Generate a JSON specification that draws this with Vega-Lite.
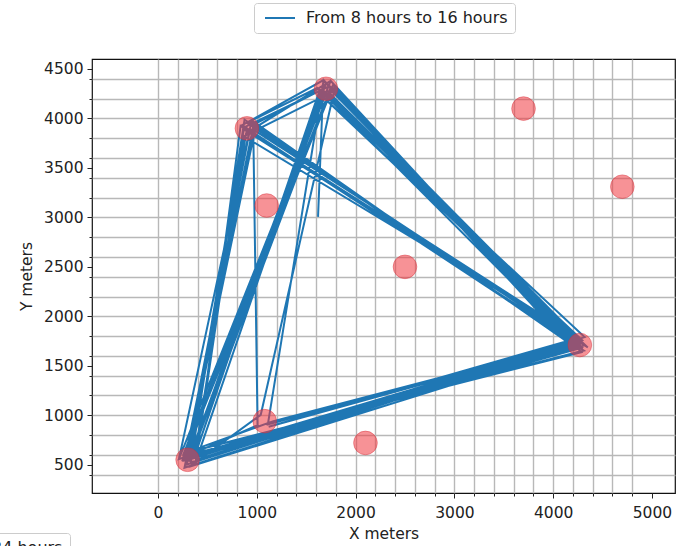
{
  "$schema": "https://vega.github.io/schema/vega-lite/v6.json",
  "autosize": {"type": "none"},
  "padding": {"left": 92, "top": 59, "right": 1, "bottom": 53},
  "width": 583,
  "height": 434,
  "background": "white",
  "config": {
    "view": {"stroke": "#111", "strokeWidth": 1.2},
    "font": "DejaVu Sans",
    "axis": {
      "labelFont": "DejaVu Sans",
      "labelFontSize": 15.5,
      "labelColor": "#222",
      "titleFont": "DejaVu Sans",
      "titleFontSize": 15.5,
      "titleFontWeight": "normal",
      "titleColor": "#222",
      "domain": false,
      "tickColor": "#222",
      "tickWidth": 1,
      "gridColor": "#b8b8b8",
      "gridWidth": 1.4
    },
    "legend": {
      "labelFont": "DejaVu Sans",
      "labelFontSize": 16,
      "labelColor": "#222",
      "labelLimit": 400,
      "strokeColor": "#cccccc",
      "fillColor": "white",
      "cornerRadius": 3,
      "padding": 7
    }
  },
  "datasets": {
    "trips": [
      {"order": 1, "x": 252, "y": 582},
      {"order": 2, "x": 1740, "y": 4244},
      {"order": 3, "x": 4254, "y": 1782},
      {"order": 4, "x": 364, "y": 566},
      {"order": 5, "x": 1628, "y": 4260},
      {"order": 6, "x": 4294, "y": 1758},
      {"order": 7, "x": 268, "y": 470},
      {"order": 8, "x": 980, "y": 3876},
      {"order": 9, "x": 4270, "y": 1766},
      {"order": 10, "x": 212, "y": 558},
      {"order": 11, "x": 1748, "y": 4380},
      {"order": 12, "x": 4262, "y": 1662},
      {"order": 13, "x": 972, "y": 3940},
      {"order": 14, "x": 1644, "y": 4284},
      {"order": 15, "x": 4286, "y": 1638},
      {"order": 16, "x": 260, "y": 614},
      {"order": 17, "x": 1168, "y": 940},
      {"order": 18, "x": 4206, "y": 1734},
      {"order": 19, "x": 332, "y": 518},
      {"order": 20, "x": 876, "y": 3988},
      {"order": 21, "x": 4222, "y": 1742},
      {"order": 22, "x": 1740, "y": 4244},
      {"order": 23, "x": 284, "y": 622},
      {"order": 24, "x": 964, "y": 3916},
      {"order": 25, "x": 1008, "y": 900},
      {"order": 26, "x": 324, "y": 598},
      {"order": 27, "x": 1668, "y": 4220},
      {"order": 28, "x": 4350, "y": 1686},
      {"order": 29, "x": 900, "y": 3956},
      {"order": 30, "x": 1612, "y": 4308},
      {"order": 31, "x": 4318, "y": 1790},
      {"order": 32, "x": 292, "y": 502},
      {"order": 33, "x": 972, "y": 3940},
      {"order": 34, "x": 4214, "y": 1694},
      {"order": 35, "x": 316, "y": 478},
      {"order": 36, "x": 1040, "y": 1004},
      {"order": 37, "x": 1788, "y": 4300},
      {"order": 38, "x": 4206, "y": 1734},
      {"order": 39, "x": 1112, "y": 908},
      {"order": 40, "x": 1676, "y": 4388},
      {"order": 41, "x": 4222, "y": 1742},
      {"order": 42, "x": 1120, "y": 884},
      {"order": 43, "x": 4254, "y": 1782},
      {"order": 44, "x": 364, "y": 566},
      {"order": 45, "x": 1628, "y": 4260},
      {"order": 46, "x": 4294, "y": 1758},
      {"order": 47, "x": 868, "y": 3820},
      {"order": 48, "x": 1780, "y": 4276},
      {"order": 49, "x": 4270, "y": 1766},
      {"order": 50, "x": 212, "y": 558},
      {"order": 51, "x": 948, "y": 3980},
      {"order": 52, "x": 4262, "y": 1662},
      {"order": 53, "x": 1772, "y": 4340},
      {"order": 54, "x": 244, "y": 534},
      {"order": 55, "x": 1716, "y": 4228},
      {"order": 56, "x": 4230, "y": 1774},
      {"order": 57, "x": 388, "y": 550},
      {"order": 58, "x": 836, "y": 3924},
      {"order": 59, "x": 4302, "y": 1678},
      {"order": 60, "x": 1676, "y": 4388},
      {"order": 61, "x": 852, "y": 3932},
      {"order": 62, "x": 4310, "y": 1654},
      {"order": 63, "x": 284, "y": 622},
      {"order": 64, "x": 1764, "y": 4316},
      {"order": 65, "x": 4198, "y": 1670},
      {"order": 66, "x": 324, "y": 598},
      {"order": 67, "x": 868, "y": 3820},
      {"order": 68, "x": 380, "y": 526},
      {"order": 69, "x": 1700, "y": 4356},
      {"order": 70, "x": 4182, "y": 1718},
      {"order": 71, "x": 1748, "y": 4380},
      {"order": 72, "x": 892, "y": 3852},
      {"order": 73, "x": 372, "y": 590},
      {"order": 74, "x": 1644, "y": 4284},
      {"order": 75, "x": 4286, "y": 1638},
      {"order": 76, "x": 260, "y": 614},
      {"order": 77, "x": 1712, "y": 4280},
      {"order": 78, "x": 4242, "y": 1720},
      {"order": 79, "x": 336, "y": 578},
      {"order": 80, "x": 1692, "y": 4264},
      {"order": 81, "x": 4290, "y": 1728},
      {"order": 82, "x": 864, "y": 3892},
      {"order": 83, "x": 4276, "y": 1750},
      {"order": 84, "x": 328, "y": 522},
      {"order": 85, "x": 4252, "y": 1732},
      {"order": 86, "x": 1740, "y": 4294},
      {"order": 87, "x": 312, "y": 530},
      {"order": 88, "x": 872, "y": 3910},
      {"order": 89, "x": 1736, "y": 4328},
      {"order": 90, "x": 4262, "y": 1674},
      {"order": 91, "x": 320, "y": 568},
      {"order": 92, "x": 1664, "y": 4292},
      {"order": 93, "x": 4276, "y": 1750},
      {"order": 94, "x": 928, "y": 3872},
      {"order": 95, "x": 282, "y": 572},
      {"order": 96, "x": 4310, "y": 1704},
      {"order": 97, "x": 1712, "y": 4280},
      {"order": 98, "x": 4242, "y": 1720},
      {"order": 99, "x": 336, "y": 578},
      {"order": 100, "x": 1692, "y": 4264},
      {"order": 101, "x": 4290, "y": 1728},
      {"order": 102, "x": 264, "y": 542},
      {"order": 103, "x": 1670, "y": 4270},
      {"order": 104, "x": 1620, "y": 3005}
    ],
    "places": [
      {"x": 300, "y": 550},
      {"x": 1080, "y": 940},
      {"x": 2100, "y": 720},
      {"x": 1100, "y": 3120},
      {"x": 900, "y": 3900},
      {"x": 1700, "y": 4300},
      {"x": 2500, "y": 2500},
      {"x": 3700, "y": 4100},
      {"x": 4700, "y": 3310},
      {"x": 4270, "y": 1710}
    ]
  },
  "encoding": {
    "x": {
      "field": "x",
      "type": "quantitative",
      "title": "X meters",
      "scale": {"domain": [-668, 5233], "nice": false, "zero": false},
      "axis": {
        "values": [0, 200, 400, 600, 800, 1000, 1200, 1400, 1600, 1800, 2000, 2200, 2400, 2600, 2800, 3000, 3200, 3400, 3600, 3800, 4000, 4200, 4400, 4600, 4800, 5000],
        "format": "d",
        "labelExpr": "datum.value % 1000 === 0 ? datum.label : ''",
        "tickSize": {"condition": {"test": "datum.value % 1000 === 0", "value": 5}, "value": 3},
        "gridOpacity": {"condition": {"test": "datum.value > 4800", "value": 0}, "value": 1},
        "labelPadding": 7,
        "titlePadding": 6
      }
    },
    "y": {
      "field": "y",
      "type": "quantitative",
      "title": "Y meters",
      "scale": {"domain": [214, 4601], "nice": false, "zero": false},
      "axis": {
        "values": [400, 500, 600, 800, 1000, 1200, 1400, 1500, 1600, 1800, 2000, 2200, 2400, 2500, 2600, 2800, 3000, 3200, 3400, 3500, 3600, 3800, 4000, 4200, 4400, 4500],
        "format": "d",
        "labelExpr": "datum.value % 500 === 0 ? datum.label : ''",
        "tickSize": {"condition": {"test": "datum.value % 500 === 0", "value": 5}, "value": 3},
        "gridOpacity": {"condition": {"test": "datum.value % 200 === 0", "value": 1}, "value": 0},
        "labelPadding": 4,
        "titlePadding": 9
      }
    }
  },
  "layer": [
    {
      "data": {"name": "trips"},
      "mark": {"type": "line", "strokeWidth": 2, "clip": true},
      "encoding": {
        "order": {"field": "order", "type": "quantitative"},
        "color": {
          "datum": "From 8 hours to 16 hours",
          "type": "nominal",
          "scale": {"range": ["#1f77b4"]},
          "legend": {
            "title": null,
            "orient": "none",
            "legendX": 162,
            "legendY": -56,
            "symbolType": "M-2.5,0L2.5,0",
            "symbolSize": 144,
            "symbolStrokeWidth": 2,
            "symbolOffset": 11,
            "labelOffset": 18
          }
        }
      }
    },
    {
      "data": {"name": "places"},
      "mark": {
        "type": "point",
        "filled": true,
        "size": 560,
        "fill": "#f0393f",
        "fillOpacity": 0.55,
        "stroke": "#d42f3a",
        "strokeOpacity": 0.45,
        "strokeWidth": 1,
        "clip": true
      },
      "encoding": {
        "shape": {
          "datum": "24 hours",
          "type": "nominal",
          "scale": {"range": ["circle"]},
          "legend": {
            "title": null,
            "orient": "none",
            "legendX": -145,
            "legendY": 474,
            "symbolSize": 100,
            "symbolFillColor": "#1f77b4",
            "symbolStrokeColor": "#1f77b4",
            "labelOffset": 22
          }
        }
      }
    }
  ]
}
